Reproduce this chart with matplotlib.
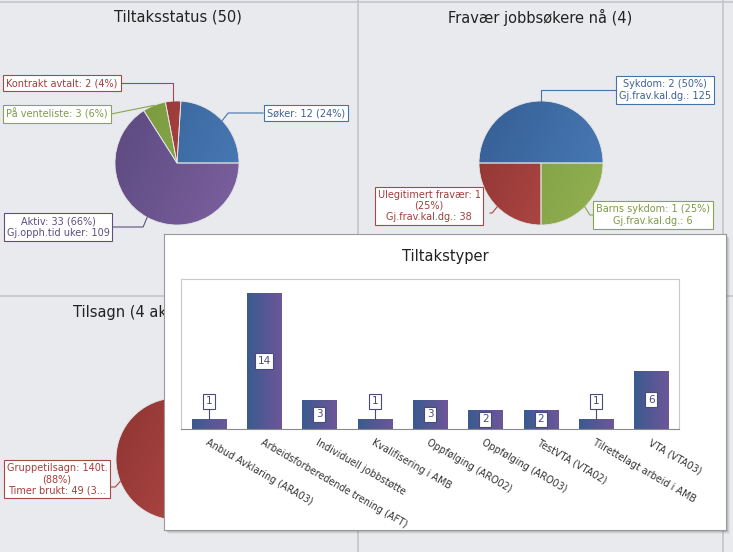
import numpy as np
import matplotlib as mpl
import matplotlib.pyplot as plt
from matplotlib.colors import LinearSegmentedColormap
from matplotlib.patches import Rectangle

W, H = 733, 552

# Tiltaksstatus (50)
status_labels = ['Søker: 12 (24%)', 'Kontrakt avtalt: 2 (4%)', 'På venteliste: 3 (6%)',
                 'Aktiv: 33 (66%)\nGj.opph.tid uker: 109']
status_values = [12, 2, 3, 33]

# Fravær jobbsøkere nå (4)
fravaer_labels = ['Sykdom: 2 (50%)\nGj.frav.kal.dg.: 125',
                  'Ulegitimert fravær: 1\n(25%)\nGj.frav.kal.dg.: 38',
                  'Barns sykdom: 1 (25%)\nGj.frav.kal.dg.: 6']
fravaer_values = [2, 1, 1]

# Tilsagn (first slice hidden behind the popup)
tilsagn_labels = ['', 'Gruppetilsagn: 140t.\n(88%)\nTimer brukt: 49 (3...']
tilsagn_values = [19, 140]

# Tiltakstyper
typer = ['Anbud Avklaring (ARA03)', 'Arbeidsforberedende trening (AFT)',
         'Individuell jobbstøtte', 'Kvalifisering i AMB', 'Oppfølging (ARO02)',
         'Oppfølging (ARO03)', 'TestVTA (VTA02)', 'Tilrettelagt arbeid i AMB',
         'VTA (VTA03)']
typer_values = [1, 14, 3, 1, 3, 2, 2, 1, 6]

# slice gradients (dark, light) + label colours
BLUE = ('#355e94', '#4a7cb8')
RED = ('#8f3533', '#b94d49')
GREEN = ('#77973d', '#93b152')
PURPLE = ('#5b4a7f', '#7d60a0')
BLUE_L, RED_L, GREEN_L, PURPLE_L = '#4572A7', '#AA4643', '#89A54E', '#5e4f80'
BLUE_T, RED_T, GREEN_T, PURPLE_T = '#3d6196', '#a03f3c', '#7f9a46', '#5e4f80'
BG = '#e9eaee'
LINE = '#c3c5cb'

mpl.rcParams['font.family'] = 'DejaVu Sans'

fig = plt.figure(figsize=(W / 100, H / 100), dpi=100, facecolor=BG)
bg = fig.add_axes([0, 0, 1, 1])
bg.set_facecolor(BG)

n = 80
xx, yy = np.meshgrid(np.linspace(0, 1, n), np.linspace(0, 1, n))
pie_grad = 0.7 * xx + 0.3 * yy


def draw_pie(ax, values, colors, cx, cy, r):
    wedges, _ = ax.pie(values, colors=[c[1] for c in colors], startangle=0,
                       counterclock=False, center=(cx, cy), radius=r,
                       wedgeprops=dict(edgecolor='#e4e4e4', linewidth=0.6))
    for wdg, c in zip(wedges, colors):
        cm = LinearSegmentedColormap.from_list('s', list(c))
        im = ax.imshow(pie_grad, extent=(cx - r, cx + r, cy + r, cy - r), cmap=cm,
                       vmin=0, vmax=1, zorder=2)
        im.set_clip_path(wdg)
        wdg.set_facecolor('none')
        wdg.set_zorder(3)
    return wedges


def pie_label(ax, wedge, cx, cy, r, text, tx, ty, bx, ly, elbow, ec, tc):
    mid = np.deg2rad((wedge.theta1 + wedge.theta2) / 2)
    px, py = cx + r * np.cos(mid), cy + r * np.sin(mid)
    ax.plot([px, px + elbow, bx], [py, ly, ly], color=ec, lw=0.8, zorder=4)
    ax.text(tx, ty, text, ha='center', va='center', ma='center', fontsize=7, color=tc,
            linespacing=1.15, zorder=5,
            bbox=dict(boxstyle='square,pad=0.3', fc='white', ec=ec, lw=0.8))


# panel dividers
for x in (358, 723):
    bg.plot([x, x], [0, H], color=LINE, lw=1.2)
bg.plot([0, W], [296, 296], color=LINE, lw=1.2)
bg.plot([0, W], [1.5, 1.5], color=LINE, lw=1.2)

# panel titles
bg.text(178, 17, 'Tiltaksstatus (50)', ha='center', va='center', fontsize=10.5, color='#222222')
bg.text(540, 17, 'Fravær jobbsøkere nå (4)', ha='center', va='center', fontsize=10.5, color='#222222')
bg.text(73, 313, 'Tilsagn (4 aktive)', ha='left', va='center', fontsize=10.5, color='#222222')

# Tiltaksstatus pie
cx, cy, r = 177, 163, 62
w = draw_pie(bg, status_values, [BLUE, RED, GREEN, PURPLE], cx, cy, r)
pie_label(bg, w[0], cx, cy, r, status_labels[0], 306, 113, 263, 113, 6, BLUE_L, BLUE_T)
pie_label(bg, w[1], cx, cy, r, status_labels[1], 62, 83, 121, 83, 0, RED_L, RED_T)
pie_label(bg, w[2], cx, cy, r, status_labels[2], 57, 114, 111, 114, -43, GREEN_L, GREEN_T)
pie_label(bg, w[3], cx, cy, r, status_labels[3], 58, 227, 113, 227, -4, PURPLE_L, PURPLE_T)

# Fravær pie
cx, cy, r = 541, 163, 62
w = draw_pie(bg, fravaer_values, [BLUE, RED, GREEN], cx, cy, r)
pie_label(bg, w[0], cx, cy, r, fravaer_labels[0], 665, 90, 615, 90, 0, BLUE_L, BLUE_T)
pie_label(bg, w[1], cx, cy, r, fravaer_labels[1], 429, 206, 490, 213, -5, RED_L, RED_T)
pie_label(bg, w[2], cx, cy, r, fravaer_labels[2], 653, 215, 593, 215, 5, GREEN_L, GREEN_T)

# Tilsagn pie (mostly hidden)
cx, cy, r = 177, 459, 61
w = draw_pie(bg, tilsagn_values, [BLUE, RED], cx, cy, r)
pie_label(bg, w[1], cx, cy, r, tilsagn_labels[1], 57, 479, 110, 487, -5, RED_L, RED_T)

# popup shadow
for i, a in enumerate([0.14, 0.10, 0.07, 0.04]):
    bg.add_patch(Rectangle((164 + i + 1, 234 + i + 1), 562, 296, fc='#000000', alpha=a,
                           ec='none', zorder=6))

bg.set_xlim(0, W)
bg.set_ylim(H, 0)
bg.set_aspect('auto')
bg.axis('off')

# popup panel
pop = fig.add_axes([164 / W, 1 - 530 / H, 562 / W, 296 / H])
pop.set_facecolor('white')
pop.set_xticks([])
pop.set_yticks([])
for s in pop.spines.values():
    s.set_color('#9a9a9a')
    s.set_linewidth(0.8)
pop.text(0.5, 1 - 22 / 296, 'Tiltakstyper', transform=pop.transAxes, ha='center', va='center',
         fontsize=10.5, color='#222222')

# bar chart
ax = fig.add_axes([181 / W, 1 - 429 / H, 498 / W, 150 / H])
ax.set_facecolor('white')
x = np.arange(len(typer))
bars = ax.bar(x, typer_values, width=0.615, color='none', edgecolor='none')
bar_cmap = LinearSegmentedColormap.from_list('bar', ['#3a5b8f', '#6d5698'])
grad = np.linspace(0, 1, 64).reshape(1, -1)
for b in bars:
    im = ax.imshow(grad, extent=(b.get_x(), b.get_x() + b.get_width(), 0, b.get_height()),
                   cmap=bar_cmap, aspect='auto', zorder=2)
    im.set_clip_path(b)

for xi, v in zip(x, typer_values):
    kw = dict(ha='center', va='center', fontsize=7.5, color='#4a4a78', zorder=5,
              bbox=dict(boxstyle='square,pad=0.25', fc='white', ec='#4a4a78', lw=0.8))
    if v <= 1:
        ax.plot([xi, xi], [v, v + 1.05], color='#4a4a78', lw=0.8, zorder=4)
        ax.text(xi, v + 1.85, str(v), **kw)
    else:
        ax.text(xi, v / 2, str(v), **kw)

ax.set_xlim(-0.5, len(typer) - 0.5)
ax.set_ylim(0, 15.45)
ax.set_yticks([])
ax.set_xticks(x, typer, rotation=-30, ha='left', va='top', rotation_mode='anchor',
              fontsize=6.9, color='#333333')
ax.tick_params(axis='x', length=0, pad=6)
for name, s in ax.spines.items():
    s.set_color('#c8c8c8')
    s.set_linewidth(0.8)
ax.spines['bottom'].set_color('#8a8a8a')

fig.savefig('out.png', dpi=100, facecolor=BG)
